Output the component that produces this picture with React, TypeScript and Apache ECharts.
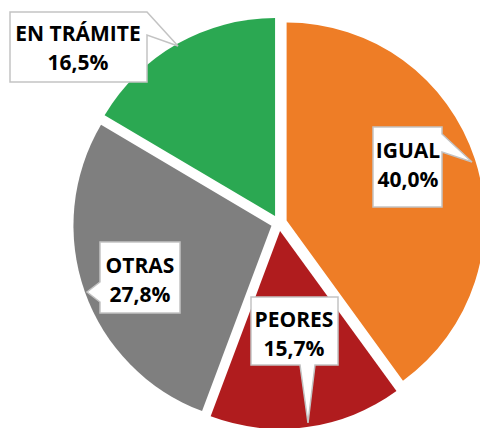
import React, { useEffect, useRef } from "react";
import * as echarts from "echarts";

const categories = ["IGUAL", "PEORES", "OTRAS", "EN TRÁMITE"];
const values = [40.0, 15.7, 27.8, 16.5];

const palette = ["#ee7d26", "#b01c1e", "#7f7f7f", "#2ba852"];

// callout layout: box [x, y, w, h], pointer triangle [base1, tip, base2], text centre
const callouts = [
  { box: [373, 127, 69, 80], ptr: [[442, 134], [472, 162], [442, 152]], side: "right", tx: 408, ty: 164 },
  { box: [251, 297, 87, 68], ptr: [[315, 365], [308, 423], [300, 365]], side: "bottom", tx: 294, ty: 333 },
  { box: [100, 242, 80, 71], ptr: [[100, 302], [87, 292], [100, 282]], side: "left", tx: 140, ty: 279 },
  { box: [10, 12, 137, 70], ptr: [[147, 12], [178, 46], [147, 35]], side: "right", tx: 78, ty: 47 },
];

function fmt(v: number) {
  return v.toFixed(1).replace(".", ",") + "%";
}

function calloutPoints(c: any): number[][] {
  const [x, y, w, h] = c.box;
  const [a, t, b] = c.ptr;
  const x2 = x + w;
  const y2 = y + h;
  if (c.side === "right") {
    return [[x, y], [x2, y], a, t, b, [x2, y2], [x, y2]];
  }
  if (c.side === "left") {
    return [[x, y], [x2, y], [x2, y2], [x, y2], a, t, b];
  }
  // bottom
  return [[x, y], [x2, y], [x2, y2], a, t, b, [x, y2]];
}

export default function App() {
  const ref = useRef<HTMLDivElement>(null);
  useEffect(() => {
    if (!ref.current) return;
    const chart = echarts.init(ref.current, undefined, { renderer: "svg" });
    const graphics: any[] = [];
    callouts.forEach((c, i) => {
      graphics.push({
        type: "polygon",
        z: 10,
        shape: { points: calloutPoints(c) },
        style: { fill: "#ffffff", stroke: "#c3c3c3", lineWidth: 1.5 },
      });
      graphics.push({
        type: "text",
        z: 11,
        x: c.tx,
        y: c.ty,
        style: {
          text: categories[i] + "\n" + fmt(values[i]),
          fontFamily: "Open Sans",
          fontWeight: "bold",
          fontSize: 21,
          lineHeight: 29,
          fill: "#000000",
          align: "center",
          verticalAlign: "middle",
        },
      });
    });
    chart.setOption({
      animation: false,
      backgroundColor: "#ffffff",
      graphic: graphics,
      series: [
        {
          type: "pie",
          center: [279, 223],
          radius: 198,
          startAngle: 90,
          clockwise: true,
          selectedMode: "multiple",
          selectedOffset: 8,
          silent: true,
          label: { show: false },
          labelLine: { show: false },
          emphasis: { disabled: true },
          data: categories.map((name, i) => ({
            name,
            value: values[i],
            selected: true,
            itemStyle: { color: palette[i] },
          })),
        },
      ],
    });
    return () => chart.dispose();
  }, []);
  return (
    <div
      ref={ref}
      style={{ position: "fixed", left: 0, top: 0, width: 480, height: 428 }}
    />
  );
}
